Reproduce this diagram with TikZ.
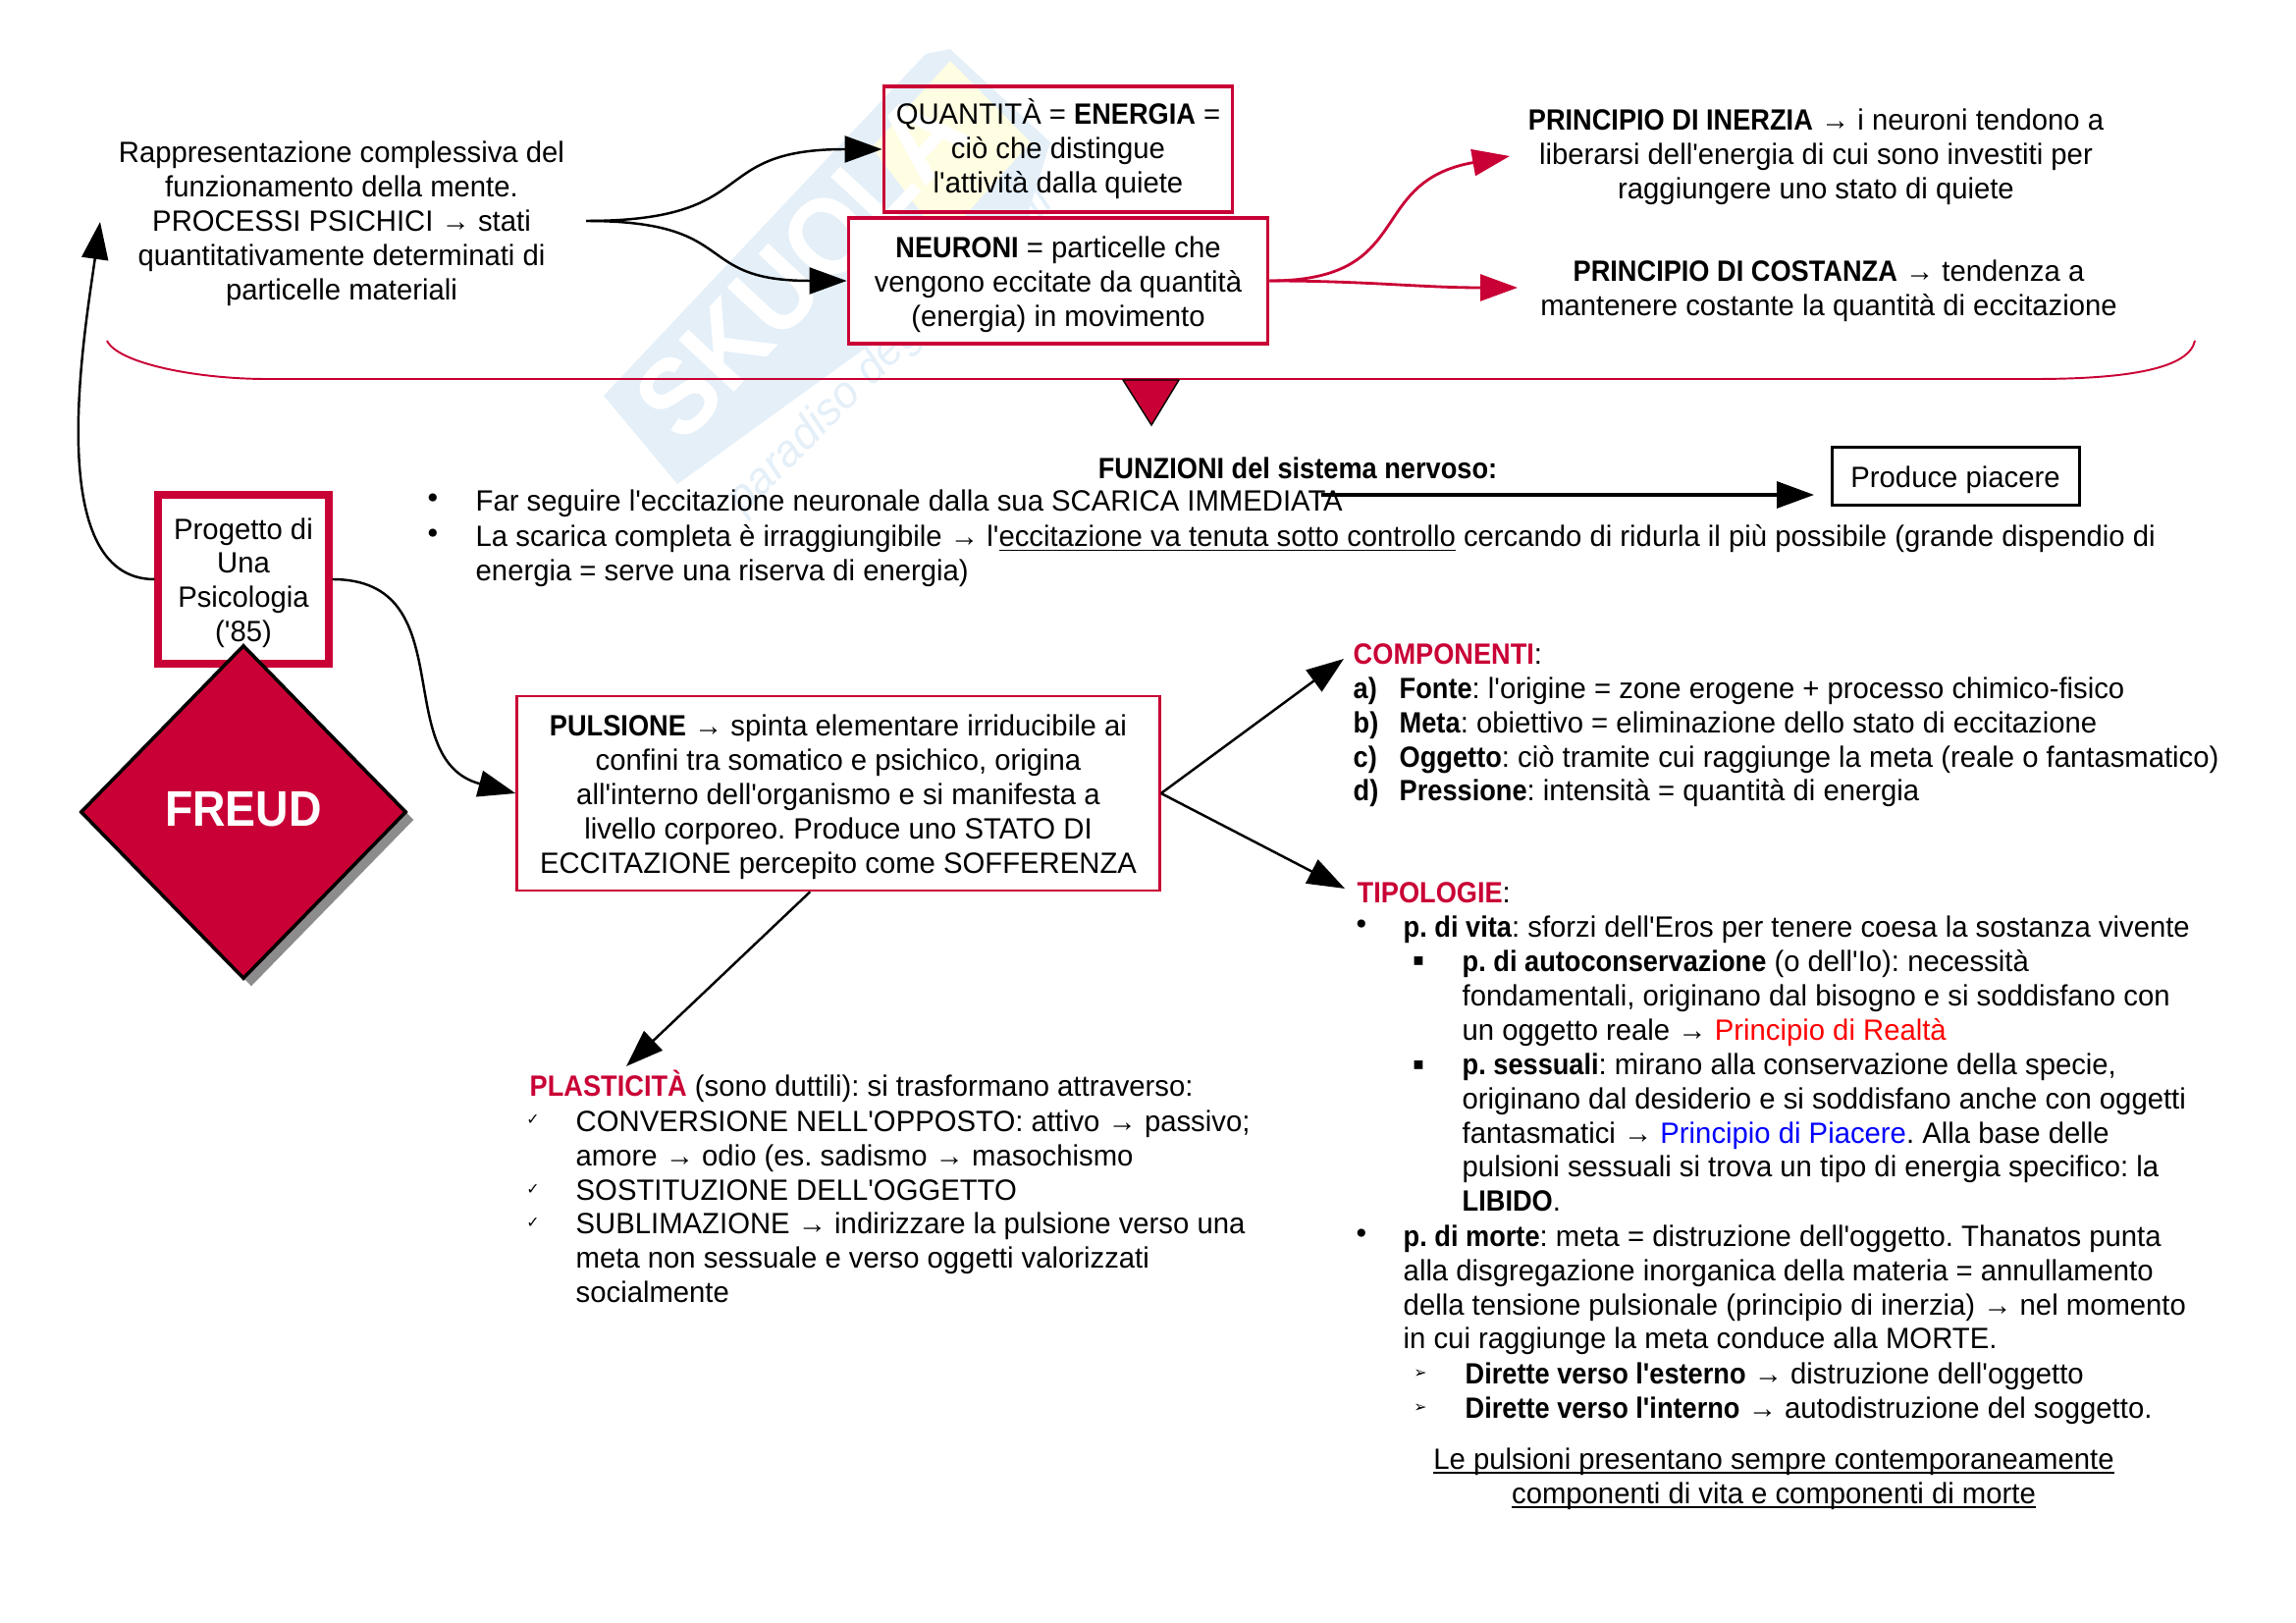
\documentclass[tikz,border=0pt]{standalone}
\usepackage{fontspec}
\usetikzlibrary{arrows.meta, positioning, calc, shapes.geometric, shadows}
\setmainfont{Liberation Sans}[Ligatures=TeXOff, FakeStretch=0.98, BoldFeatures={FakeStretch=0.91}]
\newfontfamily\symfont{DejaVu Sans}
\definecolor{crim}{HTML}{C90035}
\definecolor{wblue}{HTML}{E4EFF8}
\definecolor{wyel}{HTML}{FFFDE2}
\newcommand{\bodysize}{\frenchspacing\fontsize{8.5}{9.92}\selectfont}
\newcommand{\boxup}{\rule{0pt}{8.2pt}}
\newcommand{\ulin}[1]{\leavevmode\setbox0=\hbox{#1}\rlap{\rule[-1.3pt]{\wd0}{0.5pt}}\box0\relax}

\begin{document}
\begin{tikzpicture}[
      x=0.1mm, y=0.1mm,
      every node/.style={font=\bodysize, inner sep=0pt},
      txt/.style={align=left, anchor=north west},
      ctxt/.style={align=center},
      redbox/.style={rectangle, draw=crim, line width=1.1pt, align=center},
      blackarrow/.style={-{Triangle[length=3.8mm,width=2.7mm]}, line width=0.7pt},
      redarrow/.style={-{Triangle[length=3.8mm,width=2.7mm]}, line width=0.8pt, draw=crim},
      bul/.style={font=\symfont\fontsize{8}{8}\selectfont}
    ]
    \useasboundingbox (0,0) rectangle (2339,-1653);

    % watermark
    \fill[wblue] (615,-403) -- (943,-55) -- (968,-50) -- (1070,-145) -- (1040,-240) -- (690,-493) -- cycle;
    \fill[wyel] (968,-62) -- (1050,-145) -- (960,-245) -- (888,-150) -- cycle;
    \node[rotate=47, text=white, font=\bfseries\fontsize{32}{32}\selectfont] (wmark) at (816,-270) {SKUOLA};
    \node[rotate=45, text=wblue, font=\itshape\fontsize{13}{13}\selectfont] (wsub) at (908,-358) {paradiso degli studenti};

    % top row
    \node[ctxt] (rap) at (348,-228) {Rappresentazione complessiva del\\funzionamento della mente.\\PROCESSI PSICHICI → stati\\quantitativamente determinati di\\particelle materiali};
    \node[redbox, minimum width=35.5mm, minimum height=12.8mm] (qty) at (1078,-152) {QUANTITÀ = \textbf{ENERGIA} =\\ciò che distingue\\l'attività dalla quiete};
    \node[redbox, fill=white, minimum width=42.7mm, minimum height=12.8mm] (neu) at (1078,-286) {\boxup\textbf{NEURONI} = particelle che\\vengono eccitate da quantità\\(energia) in movimento};
    \node[ctxt] (ine) at (1850,-160) {\textbf{PRINCIPIO DI INERZIA} → i neuroni tendono a\\liberarsi dell'energia di cui sono investiti per\\raggiungere uno stato di quiete};
    \node[ctxt] (cos) at (1863,-296) {\textbf{PRINCIPIO DI COSTANZA} → tendenza a\\mantenere costante la quantità di eccitazione};

    \coordinate (rapout) at (597,-225);
    \coordinate (inein) at (1538,-159);
    \coordinate (cosin) at (1546,-293);
    \draw[blackarrow] (rapout) to[out=0,in=180,looseness=1.5] (qty.west);
    \draw[blackarrow] (rapout) to[out=0,in=180,looseness=1.5] (neu.west);
    \draw[redarrow] (neu.east) to[out=0,in=190,looseness=1.4] (inein);
    \draw[redarrow] (neu.east) to[out=0,in=180] (cosin);

    % brace and triangle
    \coordinate (bracel) at (109,-347);
    \coordinate (bracer) at (2236,-347);
    \draw[crim, line width=0.55pt] (bracel) .. controls (120,-370) and (200,-386) .. (272,-386) -- (2072,-386) .. controls (2170,-386) and (2230,-375) .. (bracer);
    \draw[fill=crim, line width=0.4pt] (1144,-387) -- (1201,-387) -- (1173,-433) -- cycle;

    % funzioni
    \node[ctxt] (fun) at (1322,-477) {\textbf{FUNZIONI del sistema nervoso:}};
    \node[rectangle, draw, line width=0.85pt, minimum width=25.2mm, minimum height=5.9mm] (prod) at (1992,-485) {\boxup Produce piacere};
    \node[txt] (far) at (484,-498) {Far seguire l'eccitazione neuronale dalla sua SCARICA IMMEDIATA};
    \node[txt] (sca) at (484,-534) {La scarica completa è irraggiungibile → l'\ulin{eccitazione va tenuta sotto controllo} cercando di ridurla il più possibile (grande dispendio di\\energia = serve una riserva di energia)};
    \foreach \y in {510,546}
      \node[bul] (dot\y) at (441,-\y) {•};
    \coordinate (farout) at (1346,-504);
    \coordinate (prodin) at (1848,-504);
    \draw[blackarrow, line width=0.9pt] (farout) -- (prodin);

    % pulsione
    \node[redbox, line width=0.75pt, fill=white, minimum width=65.5mm, minimum height=19.8mm] (pul) at (854,-808) {\boxup\textbf{PULSIONE} → spinta elementare irriducibile ai\\confini tra somatico e psichico, origina\\all'interno dell'organismo e si manifesta a\\livello corporeo. Produce uno STATO DI\\ECCITAZIONE percepito come SOFFERENZA};
    \coordinate (comin) at (1369,-671);
    \coordinate (tipin) at (1370,-905);
    \coordinate (plain) at (638,-1086);
    \draw[blackarrow] (pul.east) -- (comin);
    \draw[blackarrow] (pul.east) -- (tipin);
    \draw[blackarrow] (pul.254) -- (plain);

    % freud
    \node[redbox, line width=2pt, fill=white, minimum width=17.4mm, minimum height=17.2mm] (prog) at (248,-590) {\boxup Progetto di\\Una\\Psicologia\\('85)};
    \node[diamond, aspect=1.08, draw, line width=1pt, fill=crim, minimum width=33.2mm, minimum height=34mm,
      drop shadow={shadow xshift=0.8mm, shadow yshift=-0.8mm, fill=black!45, opacity=1}] (freud) at (248,-827) {};
    \node[text=white, font=\bfseries\fontsize{14.5}{15}\selectfont] (freudt) at (248,-824) {FREUD};
    \coordinate (rapin) at (102,-226);
    \draw[blackarrow] (prog.west) to[out=180,in=262,looseness=0.8] (rapin);
    \draw[blackarrow] (prog.east) to[out=0,in=165,looseness=1.2] (pul.west);

    % componenti
    \node[txt] (com) at (1378,-655) {\textbf{\textcolor{crim}{COMPONENTI}}:};
    \node[txt] (abc) at (1378,-689) {\textbf{a)}\\\textbf{b)}\\\textbf{c)}\\\textbf{d)}};
    \node[txt] (comt) at (1425,-689) {\textbf{Fonte}: l'origine = zone erogene + processo chimico-fisico\\\textbf{Meta}: obiettivo = eliminazione dello stato di eccitazione\\\textbf{Oggetto}: ciò tramite cui raggiunge la meta (reale o fantasmatico)\\\textbf{Pressione}: intensità = quantità di energia};

    % plasticita
    \node[txt] (pla) at (539,-1089) {\textbf{\textcolor{crim}{PLASTICITÀ}} (sono duttili): si trasformano attraverso:};
    \node[txt] (plat) at (586,-1130) {CONVERSIONE NELL'OPPOSTO: attivo → passivo;\\amore → odio (es. sadismo → masochismo\\SOSTITUZIONE DELL'OGGETTO\\SUBLIMAZIONE → indirizzare la pulsione verso una\\meta non sessuale e verso oggetti valorizzati\\socialmente};
    \foreach \y in {1141,1212,1246}
      \node[bul, font=\symfont\fontsize{4.5}{4.5}\selectfont] (chk\y) at (543,-\y) {✓};

    % tipologie
    \node[txt] (tip) at (1382,-898) {\textbf{\textcolor{crim}{TIPOLOGIE}}:};
    \node[txt] (vita) at (1429,-932) {\textbf{p. di vita}: sforzi dell'Eros per tenere coesa la sostanza vivente};
    \node[txt] (auto) at (1489,-967) {\textbf{p. di autoconservazione} (o dell'Io): necessità\\fondamentali, originano dal bisogno e si soddisfano con\\un oggetto reale → \textcolor{red}{Principio di Realtà}};
    \node[txt] (sess) at (1489,-1072) {\textbf{p. sessuali}: mirano alla conservazione della specie,\\originano dal desiderio e si soddisfano anche con oggetti\\fantasmatici → \textcolor{blue}{Principio di Piacere}. Alla base delle\\pulsioni sessuali si trova un tipo di energia specifico: la\\\textbf{LIBIDO}.};
    \node[txt] (mor) at (1429,-1247) {\textbf{p. di morte}: meta = distruzione dell'oggetto. Thanatos punta\\alla disgregazione inorganica della materia = annullamento\\della tensione pulsionale (principio di inerzia) → nel momento\\in cui raggiunge la meta conduce alla MORTE.};
    \node[txt] (dir) at (1492,-1387) {\textbf{Dirette verso l'esterno} → distruzione dell'oggetto\\\textbf{Dirette verso l'interno} → autodistruzione del soggetto.};
    \node[ctxt] (fin) at (1807,-1506) {\ulin{Le pulsioni presentano sempre contemporaneamente}\\\ulin{componenti di vita e componenti di morte}};
    \foreach \y in {944,1259}
      \node[bul] (dot\y) at (1387,-\y) {•};
    \foreach \y in {979,1085}
      \node[bul, font=\symfont\fontsize{5}{5}\selectfont] (squ\y) at (1445,-\y) {▪};
    \foreach \y in {1399,1434}
      \node[bul, font=\symfont\fontsize{4.5}{4.5}\selectfont] (arr\y) at (1447,-\y) {➢};
  \end{tikzpicture}
\end{document}
